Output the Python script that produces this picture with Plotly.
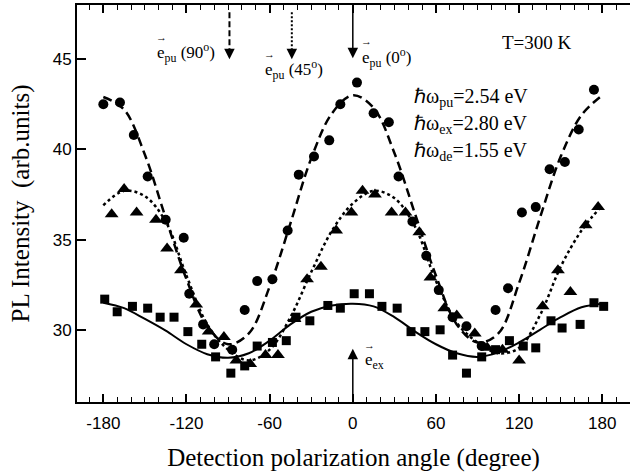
import plotly.graph_objects as go

# ---- data ----
circ_x = [-180, -168, -158, -148, -135, -122, -118, -108, -100, -87, -78, -69, -58, -47, -39, -28, -17, -9, 3,
          15, 26, 33, 43, 53, 62, 72, 82, 93, 103, 112, 122, 132, 142, 153, 163, 174]
circ_y = [42.5, 42.6, 40.8, 38.5, 36.1, 35.1, 32.0, 30.3, 29.2, 28.9, 31.1, 32.7, 32.8, 35.5, 38.6, 39.6, 40.5, 42.5, 43.7,
          42.0, 41.5, 38.5, 36.0, 34.1, 32.2, 30.7, 30.2, 29.1, 31.1, 32.3, 36.5, 36.8, 38.9, 39.3, 41.1, 43.3]

tri_x = [-174, -165, -156, -142, -134, -124, -113, -104, -93, -84, -74, -63, -54, -42, -33, -23, -12, -1,
         7, 16, 28, 38, 48, 56, 66, 75, 88, 97, 108, 120, 137, 148, 157, 168, 177]
tri_y = [36.4, 37.8, 36.5, 36.1, 34.5, 33.3, 31.4, 29.9, 29.6, 28.3, 28.1, 28.6, 28.6, 30.6, 32.8, 33.5, 35.5, 36.5,
         37.7, 37.5, 36.5, 36.5, 35.4, 32.9, 31.2, 30.8, 29.8, 29.0, 28.9, 28.3, 31.3, 33.3, 32.1, 35.8, 36.8]

sq_x = [-179, -170, -159, -148, -139, -129, -119, -109, -99, -88, -78, -69, -58, -48, -41, -31, -18, -9, 1,
        12, 21, 32, 42, 52, 63, 72, 82, 93, 103, 113, 123, 132, 143, 151, 164, 174, 181]
sq_y = [31.7, 31.0, 31.3, 31.2, 30.7, 30.7, 29.9, 29.2, 28.5, 27.6, 28.0, 29.1, 29.3, 29.4, 30.7, 30.5, 31.35, 31.2, 32.0,
        32.0, 31.3, 31.2, 29.9, 29.9, 30.0, 28.6, 27.6, 28.5, 28.9, 29.4, 29.1, 29.0, 30.5, 30.1, 30.3, 31.5, 31.3]

# fitted curves, read at 15-degree steps
fit_x = [-180, -165, -150, -135, -120, -105, -90, -75, -60, -45, -30, -15, 0,
         15, 30, 45, 60, 75, 90, 105, 120, 135, 150, 165, 180]
dash_y = [42.9, 42.2, 39.7, 36.2, 32.8, 30.2, 29.2, 29.8, 32.4, 35.9, 39.5, 42.0, 43.0,
          42.3, 39.8, 36.4, 33.0, 30.3, 29.3, 29.8, 32.6, 36.2, 39.6, 41.9, 43.0]
dot_y = [36.9, 37.7, 37.4, 36.0, 33.0, 30.3, 28.9, 28.3, 28.9, 30.7, 33.2, 35.5, 37.0,
         37.7, 37.3, 35.7, 32.7, 30.4, 29.3, 28.7, 29.0, 30.8, 33.5, 35.5, 36.9]
sol_y = [31.5, 31.2, 30.6, 29.95, 29.2, 28.65, 28.45, 28.7, 29.4, 30.3, 31.0, 31.35, 31.45,
         31.3, 30.7, 29.9, 29.2, 28.7, 28.5, 28.75, 29.3, 30.0, 30.7, 31.25, 31.45]

x_ticks = [-180, -120, -60, 0, 60, 120, 180]
y_ticks = [30, 35, 40, 45]

SERIF = "Liberation Serif"
SANS = "Liberation Sans"

fig = go.Figure()
fig.add_trace(go.Scatter(x=fit_x, y=dash_y, mode="lines", line=dict(color="black", width=2.5, dash="9px,5px", shape="spline")))
fig.add_trace(go.Scatter(x=fit_x, y=dot_y, mode="lines", line=dict(color="black", width=2.5, dash="3px,3px", shape="spline")))
fig.add_trace(go.Scatter(x=fit_x, y=sol_y, mode="lines", line=dict(color="black", width=2, shape="spline")))
fig.add_trace(go.Scatter(x=circ_x, y=circ_y, mode="markers", marker=dict(symbol="circle", size=10, color="black")))
fig.add_trace(go.Scatter(x=tri_x, y=tri_y, mode="markers", marker=dict(symbol="triangle-up", size=12, color="black")))
fig.add_trace(go.Scatter(x=sq_x, y=sq_y, mode="markers", marker=dict(symbol="square", size=9, color="black")))

# pump polarization arrows (top)
fig.add_shape(type="line", x0=-89, x1=-89, y0=47.6, y1=45.4, line=dict(color="black", width=2, dash="6px,3px"))
fig.add_shape(type="line", x0=-44, x1=-44, y0=47.6, y1=45.4, line=dict(color="black", width=2, dash="2px,2px"))
for xa in [-89, -44]:
    fig.add_annotation(x=xa, y=45.0, ax=0, ay=-8, xref="x", yref="y", showarrow=True,
                       arrowhead=2, arrowsize=1.4, arrowwidth=1.5, arrowcolor="black", text="")
fig.add_annotation(x=0, y=45.05, ax=0, ay=48.0, axref="x", ayref="y", xref="x", yref="y", showarrow=True,
                   arrowhead=2, arrowsize=1.4, arrowwidth=1.5, arrowcolor="black", text="")
# excitation polarization arrow (bottom)
fig.add_annotation(x=0, y=28.95, ax=0, ay=26.2, axref="x", ayref="y", xref="x", yref="y", showarrow=True,
                   arrowhead=2, arrowsize=1.4, arrowwidth=1.5, arrowcolor="black", text="")

def txt(x, y, s, size, xanchor="left", xshift=0, yshift=0):
    fig.add_annotation(x=x, y=y, xref="x", yref="y", text=s, showarrow=False, xanchor=xanchor, yanchor="middle",
                       xshift=xshift, yshift=yshift, font=dict(family=SERIF, size=size, color="black"))

def evec(x, y, sub, rest):
    txt(x, y, "e<sub>" + sub + "</sub>" + rest, 17)
    txt(x, y, "\u2192", 11, xshift=-1, yshift=16)

evec(-143, 45.35, "pu", " (90<sup>o</sup>)")
evec(-65, 44.4, "pu", " (45<sup>o</sup>)")
evec(5.5, 45.1, "pu", " (0<sup>o</sup>)")
evec(7.5, 28.3, "ex", "")
txt(106, 45.9, "T=300 K", 19)
txt(43, 42.9, "\u210f\u03c9<sub>pu</sub>=2.54 eV", 20)
txt(43, 41.4, "\u210f\u03c9<sub>ex</sub>=2.80 eV", 20)
txt(43, 39.9, "\u210f\u03c9<sub>de</sub>=1.55 eV", 20)

fig.update_layout(
    width=631, height=472,
    margin=dict(l=77, r=1, t=5, b=70),
    paper_bgcolor="white", plot_bgcolor="white",
    showlegend=False,
    xaxis=dict(range=[-199, 200], tickmode="array", tickvals=x_ticks, ticktext=[str(v) for v in x_ticks],
               ticks="inside", ticklen=8, tickwidth=1.5, tickcolor="black",
               minor=dict(ticks="inside", dtick=10, tick0=0, ticklen=5, tickwidth=1.2, tickcolor="black"),
               showline=True, linewidth=2, linecolor="black", mirror="ticks",
               showgrid=False, zeroline=False, automargin=False, ticklabelstandoff=5,
               tickfont=dict(family=SANS, size=17, color="black"),
               title=dict(text="Detection polarization angle (degree)", font=dict(family=SERIF, size=25, color="black"), standoff=18)),
    yaxis=dict(range=[26, 48], tickmode="array", tickvals=y_ticks, ticktext=[str(v) for v in y_ticks],
               ticks="inside", ticklen=9, tickwidth=1.5, tickcolor="black",
               showline=True, linewidth=2, linecolor="black", mirror=False,
               showgrid=False, zeroline=False, automargin=False,
               tickfont=dict(family=SANS, size=17, color="black"),
               title=dict(text="PL Intensity\u00a0\u00a0(arb.units)", font=dict(family=SERIF, size=25, color="black"), standoff=16)),
)

fig.write_html("out.html", post_script="document.body.style.margin='0';", config={"displayModeBar": False})
